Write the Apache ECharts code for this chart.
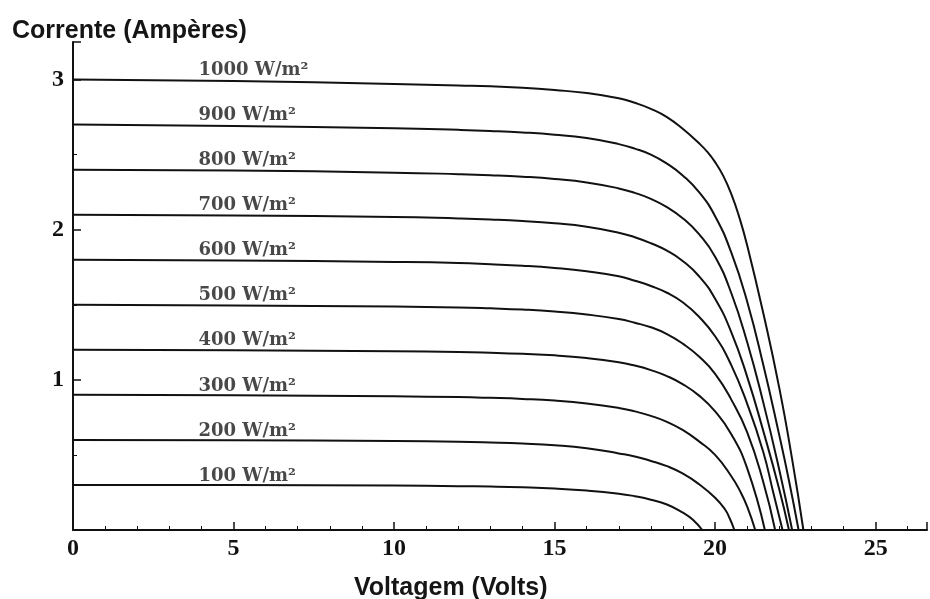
<!DOCTYPE html>
<html>
<head>
<meta charset="utf-8">
<script src="https://cdn.jsdelivr.net/npm/echarts@6/dist/echarts.min.js"></script>
<style>
html,body{margin:0;padding:0;background:#fff;}
#chart{width:930px;height:599px;}
</style>
</head>
<body>
<div id="chart"></div>
<script>
// Irradiance levels (labels)
const irradiance = ['1000 W/m²','900 W/m²','800 W/m²','700 W/m²','600 W/m²','500 W/m²','400 W/m²','300 W/m²','200 W/m²','100 W/m²'];

// I–V curves: [voltage (V), current (A)]
const curve1000 = [[0,3.00],[5,2.99],[10,2.97],[12,2.96],[13,2.955],[14,2.945],[15,2.93],[16,2.91],[17,2.875],[17.5,2.845],[18,2.805],[18.5,2.75],[19,2.67],[19.5,2.575],[19.75,2.52],[20,2.45],[20.25,2.36],[20.5,2.24],[20.75,2.085],[21,1.895],[21.5,1.445],[22,0.945],[22.4,0.47],[22.75,0]];
const curve900  = [[0,2.70],[5,2.69],[10,2.675],[12,2.665],[13,2.658],[14,2.648],[15,2.633],[16,2.61],[17,2.57],[17.5,2.54],[18,2.50],[18.5,2.44],[19,2.36],[19.5,2.25],[20,2.09],[20.5,1.85],[21,1.52],[21.5,1.10],[22,0.63],[22.3,0.33],[22.6,0]];
const curve800  = [[0,2.40],[5,2.395],[10,2.38],[12,2.37],[13,2.363],[14,2.353],[15,2.338],[16,2.315],[17,2.275],[17.5,2.245],[18,2.205],[18.5,2.15],[19,2.075],[19.5,1.97],[20,1.82],[20.5,1.58],[21,1.25],[21.5,0.85],[22,0.40],[22.4,0]];
const curve700  = [[0,2.10],[5,2.095],[10,2.085],[12,2.075],[13,2.068],[14,2.058],[15,2.043],[16,2.02],[17,1.98],[17.5,1.95],[18,1.91],[18.5,1.86],[19,1.79],[19.5,1.69],[20,1.54],[20.5,1.32],[21,1.02],[21.5,0.66],[22,0.27],[22.3,0]];
const curve600  = [[0,1.80],[5,1.795],[10,1.785],[12,1.778],[13,1.77],[14,1.76],[15,1.745],[16,1.723],[17,1.69],[17.5,1.66],[18,1.625],[18.5,1.58],[19,1.515],[19.5,1.42],[20,1.29],[20.5,1.10],[21,0.84],[21.5,0.52],[21.8,0.26],[22.1,0]];
const curve500  = [[0,1.50],[5,1.495],[10,1.488],[12,1.482],[13,1.476],[14,1.468],[15,1.455],[16,1.435],[17,1.405],[17.5,1.38],[18,1.35],[18.5,1.305],[19,1.24],[19.5,1.155],[20,1.04],[20.5,0.87],[21,0.65],[21.5,0.32],[21.87,0]];
const curve400  = [[0,1.20],[5,1.197],[10,1.19],[12,1.185],[13,1.18],[14,1.173],[15,1.163],[16,1.145],[17,1.117],[17.5,1.095],[18,1.065],[18.5,1.025],[19,0.97],[19.5,0.895],[20,0.79],[20.5,0.64],[21,0.41],[21.55,0]];
const curve300  = [[0,0.90],[5,0.897],[10,0.89],[12,0.885],[13,0.88],[14,0.873],[15,0.862],[16,0.843],[17,0.813],[17.5,0.79],[18,0.76],[18.5,0.72],[19,0.665],[19.5,0.59],[20,0.50],[20.5,0.36],[20.8,0.25],[21.0,0.155],[21.25,0]];
const curve200  = [[0,0.60],[5,0.598],[10,0.593],[12,0.588],[13,0.583],[14,0.576],[15,0.565],[16,0.545],[17,0.51],[17.5,0.49],[18,0.46],[18.5,0.425],[19,0.375],[19.5,0.305],[20,0.215],[20.3,0.14],[20.45,0.08],[20.6,0]];
const curve100  = [[0,0.30],[5,0.299],[10,0.296],[12,0.292],[13,0.289],[14,0.284],[15,0.276],[16,0.263],[17,0.242],[17.5,0.225],[18,0.202],[18.5,0.17],[19,0.115],[19.3,0.07],[19.6,0]];

const curves = [curve1000,curve900,curve800,curve700,curve600,curve500,curve400,curve300,curve200,curve100];

// Axis ticks and titles
const xTicks = [0,5,10,15,20,25];
const yTicks = [1,2,3];
const yTitle = 'Corrente (Ampères)';
const xTitle = 'Voltagem (Volts)';
const labelVoltage = 3.75;

const chart = echarts.init(document.getElementById('chart'), null, {renderer:'canvas'});

const series = curves.map((c, i) => ({
  type: 'line',
  name: irradiance[i],
  data: c,
  smooth: 0.5,
  showSymbol: false,
  symbol: 'none',
  lineStyle: {color:'#111', width:2},
  z: 3,
  animation: false
}));

series.push({
  type: 'scatter',
  data: curves.map((c, i) => ({value:[labelVoltage, c[0][1]], name: irradiance[i]})),
  symbolSize: 0,
  label: {
    show: true,
    position: 'insideBottomLeft',
    formatter: p => p.name,
    color: '#1a1a1a',
    fontFamily: 'DejaVu Serif',
    fontSize: 18,
    fontWeight: 'bold',
    offset: [0, 5],
    align: 'left',
    verticalAlign: 'bottom'
  },
  silent: true,
  animation: false
});

chart.setOption({
  backgroundColor: '#fff',
  animation: false,
  title: [
    {text: yTitle, left: 7, top: 14, textStyle: {color:'#151515', fontFamily:'Liberation Sans', fontSize: 25, fontWeight: 'bold'}},
    {text: xTitle, left: 349, top: 571, textStyle: {color:'#151515', fontFamily:'Liberation Sans', fontSize: 25, fontWeight: 'bold'}}
  ],
  grid: {left: 73, right: 3, top: 42, bottom: 69, containLabel: false},
  xAxis: {
    type: 'value',
    min: 0, max: 26.6, interval: 5,
    axisLine: {show: true, lineStyle: {color: '#111', width: 2}},
    axisTick: {show: true, inside: true, length: 8, lineStyle: {color: '#111', width: 1.5}},
    minorTick: {show: true, splitNumber: 5, length: 4, lineStyle: {color: '#111'}},
    splitLine: {show: false},
    axisLabel: {
      color: '#111', fontFamily: 'Liberation Serif', fontSize: 24, fontWeight: 'bold', margin: 7,
      showMaxLabel: false,
      formatter: v => xTicks.includes(v) ? String(v) : ''
    }
  },
  yAxis: {
    type: 'value',
    min: 0, max: 3.25, interval: 1,
    axisLine: {show: true, lineStyle: {color: '#111', width: 2}},
    axisTick: {show: true, inside: true, length: 8, lineStyle: {color: '#111', width: 1.5}},
    minorTick: {show: true, splitNumber: 2, length: 4, lineStyle: {color: '#111'}},
    splitLine: {show: false},
    axisLabel: {
      color: '#111', fontFamily: 'Liberation Serif', fontSize: 24, fontWeight: 'bold', margin: 9,
      showMinLabel: false, showMaxLabel: false,
      formatter: v => yTicks.includes(v) ? String(v) : ''
    }
  },
  series: series
});
</script>
</body>
</html>
